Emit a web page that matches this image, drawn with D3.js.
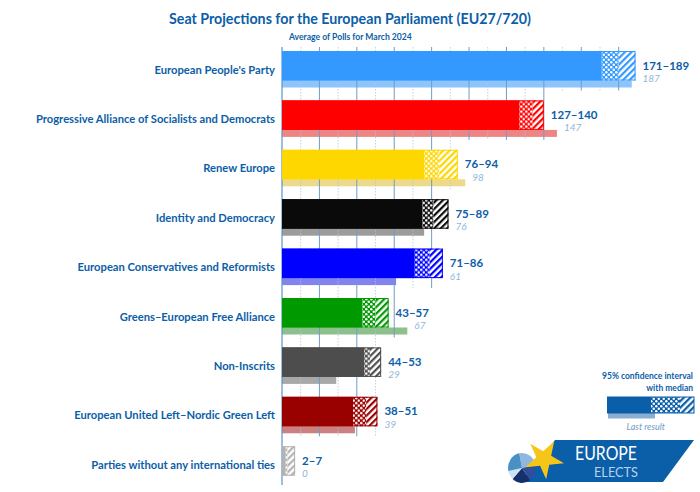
<!DOCTYPE html>
<html><head><meta charset="utf-8">
<script src="https://cdn.jsdelivr.net/npm/d3@7"></script>
<style>html,body{margin:0;padding:0;background:#fff}svg{display:block}text{font-family:Lato,sans-serif}</style>
</head><body><div id="c"></div>
<script>
const categories=["European People's Party","Progressive Alliance of Socialists and Democrats","Renew Europe","Identity and Democracy","European Conservatives and Reformists","Greens–European Free Alliance","Non-Inscrits","European United Left–Nordic Green Left","Parties without any international ties"];
const low=[171,127,76,75,71,43,44,38,2];
const median=[180,134,84,81,79,50,47,45,3];
const high=[189,140,94,89,86,57,53,51,7];
const lastResult=[187,147,98,76,61,67,29,39,0];
const colors=["#3399ff","#ff0000","#ffd700","#0a0a0a","#0000ff","#009900","#4d4d4d","#990000","#b3b3b3"];
const lastColors=["#8cc4fb","#ee8585","#ecd98a","#9c9c9c","#8383ee","#8cc08c","#a8a8a8","#cc8080","#cccccc"];
const rangeLabels=["171–189","127–140","76–94","75–89","71–86","43–57","44–53","38–51","2–7"];
const lastLabels=["187","147","98","76","61","67","29","39","0"];
const majorTicks=d3.range(20,190,20), minorTicks=d3.range(10,190,20);
const blue="#0b5ea8";
const W=700,H=492;
const svg=d3.select("#c").append("svg").attr("width",W).attr("height",H);
const x=d3.scaleLinear().domain([0,189]).range([282,635.5]);
const y=d3.scaleBand().domain(categories).range([51,51+49.4*9]).paddingInner(0).paddingOuter(0);
const barH=29.5,lastH=7;
const defs=svg.append("defs");
function patterns(id,col){
  const d=defs.append("pattern").attr("id","d"+id).attr("patternUnits","userSpaceOnUse").attr("width",5).attr("height",5);
  d.append("rect").attr("width",5).attr("height",5).attr("fill",col);
  d.append("circle").attr("cx",1.25).attr("cy",1.25).attr("r",1.25).attr("fill","#fff");
  d.append("circle").attr("cx",3.75).attr("cy",3.75).attr("r",1.25).attr("fill","#fff");
  const s=defs.append("pattern").attr("id","s"+id).attr("patternUnits","userSpaceOnUse").attr("width",4.6).attr("height",4.6).attr("patternTransform","rotate(45)");
  s.append("rect").attr("width",4.6).attr("height",4.6).attr("fill","#fff");
  s.append("rect").attr("width",2.2).attr("height",4.6).attr("fill",col);
}
colors.forEach((c,i)=>patterns(i,c));
patterns("L","#0b5ea8");
// each gridline stops under the last row whose values reach that tick
const tickEnd=t=>{
  let r=-1;
  categories.forEach((c,i)=>{if(Math.max(high[i],lastResult[i])>=t)r=i;});
  return y(categories[Math.max(r,0)])+barH+lastH+3;
};
const rows=svg.append("g").selectAll("g").data(categories).join("g").attr("transform",d=>`translate(0,${y(d)})`);
rows.append("rect").attr("x",x(0)).attr("y",barH).attr("height",lastH).attr("width",(d,i)=>x(lastResult[i])-x(0)).attr("fill",(d,i)=>lastColors[i]);
const grid=svg.append("g");
grid.selectAll(".mi").data(minorTicks).join("line").attr("x1",x).attr("x2",x).attr("y1",47).attr("y2",tickEnd).attr("stroke","#a9c6e2").attr("stroke-width",.8).attr("stroke-dasharray","1.5 1.5");
grid.selectAll(".ma").data(majorTicks).join("line").attr("x1",x).attr("x2",x).attr("y1",47).attr("y2",tickEnd).attr("stroke","#6f9cc9").attr("stroke-width",1);
svg.append("line").attr("x1",x(0)).attr("x2",x(0)).attr("y1",47).attr("y2",485).attr("stroke","#5b94c8").attr("stroke-width",1.2);
const fg=svg.append("g").selectAll("g").data(categories).join("g").attr("transform",d=>`translate(0,${y(d)})`);
fg.append("rect").attr("x",x(0)).attr("y",0).attr("height",barH).attr("width",(d,i)=>x(low[i])-x(0)).attr("fill",(d,i)=>colors[i]);
fg.append("rect").attr("x",(d,i)=>x(low[i])).attr("y",0).attr("height",barH).attr("width",(d,i)=>x(median[i])-x(low[i])).attr("fill",(d,i)=>`url(#d${i})`);
fg.append("rect").attr("x",(d,i)=>x(median[i])).attr("y",0).attr("height",barH).attr("width",(d,i)=>x(high[i])-x(median[i])).attr("fill",(d,i)=>`url(#s${i})`);
fg.append("rect").attr("x",x(0)+.5).attr("y",.5).attr("height",barH-1).attr("width",(d,i)=>x(high[i])-x(0)-1).attr("fill","none").attr("stroke",(d,i)=>colors[i]).attr("stroke-width",1);
fg.append("text").attr("x",275).attr("y",22.5).attr("text-anchor","end").attr("fill",blue).attr("font-size",11.2).attr("font-weight",700).text(d=>d);
fg.append("text").attr("x",(d,i)=>x(high[i])+7).attr("y",18.5).attr("fill",blue).attr("font-size",11.5).attr("font-weight",700).text((d,i)=>rangeLabels[i]);
fg.append("text").attr("x",(d,i)=>x(Math.max(high[i],lastResult[i]))+7).attr("y",31).attr("fill","#8fb5d9").attr("font-size",10).attr("font-style","italic").text((d,i)=>lastLabels[i]);
svg.append("text").attr("x",169).attr("y",24).attr("textLength",362).attr("lengthAdjust","spacingAndGlyphs").attr("fill",blue).attr("font-size",16).attr("font-weight",700).text("Seat Projections for the European Parliament (EU27/720)");
svg.append("text").attr("x",289).attr("y",39.5).attr("fill",blue).attr("font-size",8.6).attr("font-weight",700).text("Average of Polls for March 2024");
// legend
const lg=svg.append("g");
lg.append("text").attr("x",693).attr("y",379).attr("text-anchor","end").attr("fill",blue).attr("font-size",8.5).attr("font-weight",700).text("95% confidence interval");
lg.append("text").attr("x",693).attr("y",391).attr("text-anchor","end").attr("fill",blue).attr("font-size",8.5).attr("font-weight",700).text("with median");
lg.append("rect").attr("x",608).attr("y",413).attr("width",47).attr("height",5.5).attr("fill","#8aaed2");
lg.append("rect").attr("x",607.5).attr("y",397).attr("width",43.5).attr("height",16).attr("fill","#0b5ea8");
lg.append("rect").attr("x",651).attr("y",397).attr("width",29).attr("height",16).attr("fill","url(#dL)");
lg.append("rect").attr("x",680).attr("y",397).attr("width",14).attr("height",16).attr("fill","url(#sL)");
lg.append("rect").attr("x",607.5).attr("y",397).attr("width",86.5).attr("height",16).attr("fill","none").attr("stroke","#0b5ea8");
lg.append("text").attr("x",665).attr("y",429.5).attr("text-anchor","end").attr("fill","#6f9cc7").attr("font-size",9).attr("font-style","italic").text("Last result");
// logo
const lo=svg.append("g");
lo.append("polygon").attr("points","555,440 694,440 663,482 521,482").attr("fill","#0b5ea8");
const pie=d3.pie().sort(null).startAngle(-0.2).endAngle(2*Math.PI-0.2)([3,2.2,2.6,1.2,3]);
const arc=d3.arc().innerRadius(0).outerRadius(15);
const pc=["#8fb8de","#2f4f9e","#16306e","#cfe2f3","#4a90c4"];
const pg=lo.append("g").attr("transform","translate(522,468) scale(.93,1)");
pg.selectAll("path").data(pie).join("path").attr("d",arc).attr("fill",(d,i)=>pc[i]);
const star=d3.symbol().type(d3.symbolStar).size(470)();
lo.append("path").attr("d",star).attr("transform","translate(544,459) rotate(30)").attr("fill","#f5c518");
lo.append("text").attr("x",575).attr("y",460).attr("textLength",62).attr("lengthAdjust","spacingAndGlyphs").attr("fill","#fff").attr("font-size",20).text("EUROPE");
lo.append("text").attr("x",594).attr("y",477).attr("textLength",44).attr("lengthAdjust","spacingAndGlyphs").attr("fill","#b9d3ec").attr("font-size",14).text("ELECTS");
</script></body></html>
